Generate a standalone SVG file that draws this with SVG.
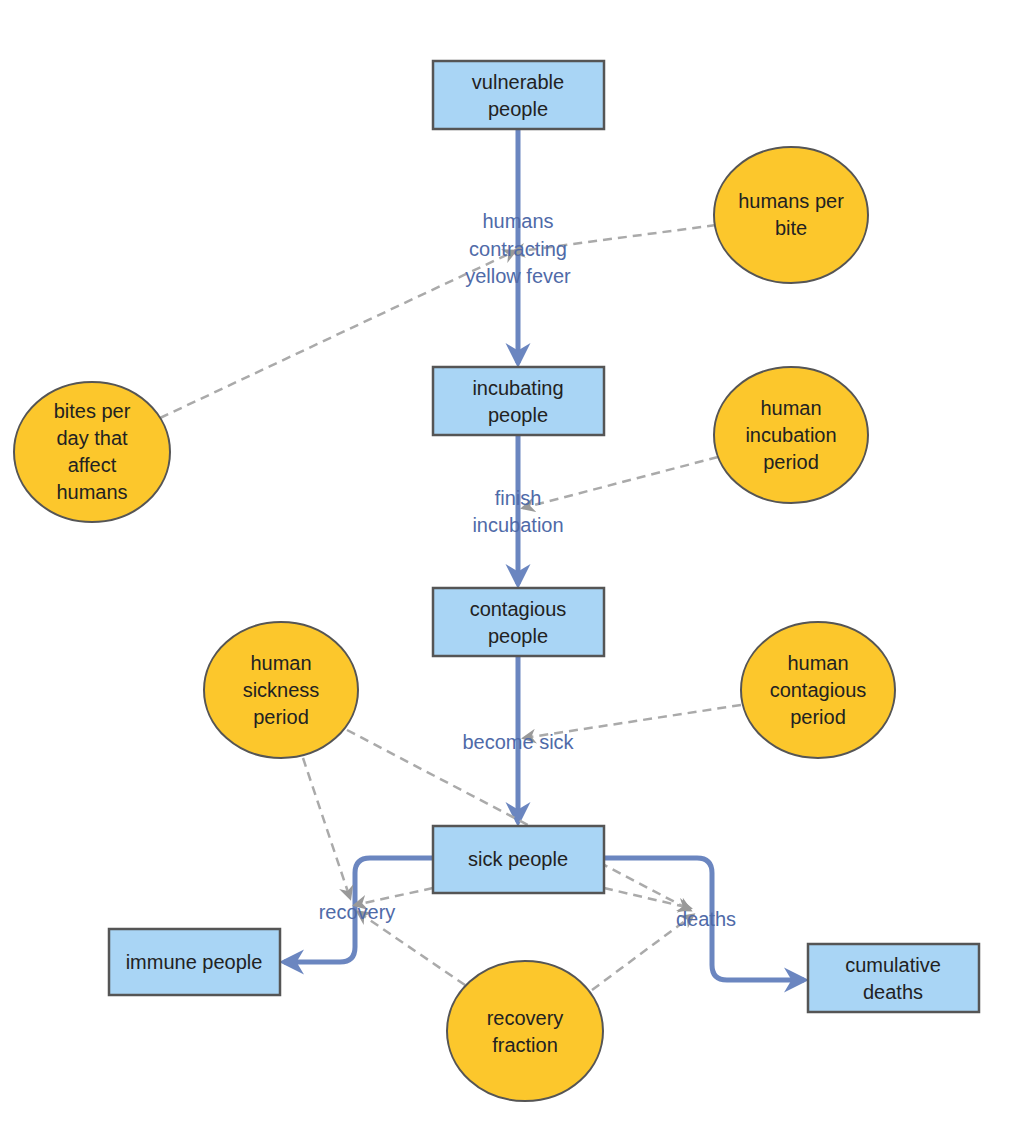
<svg xmlns="http://www.w3.org/2000/svg" width="1028" height="1126" viewBox="0 0 1028 1126">
<defs>
<style>
.box{fill:#a9d5f5;stroke:#555;stroke-width:2.5}
.aux{fill:#fcc72c;stroke:#555;stroke-width:2}
.t{font-family:"Comic Sans MS","Liberation Sans",sans-serif;font-size:20px;fill:#222;text-anchor:middle}
.ft{font-family:"Comic Sans MS","Liberation Sans",sans-serif;font-size:20px;fill:#4f6aa8;text-anchor:middle}
.flow{fill:none;stroke:#6b86c0;stroke-width:5;marker-end:url(#fa)}
.dash{fill:none;stroke:#aaa;stroke-width:2.5;stroke-dasharray:9 6;marker-end:url(#da)}
</style>
<marker id="fa" viewBox="0 0 10 10" refX="8" refY="5" markerWidth="5" markerHeight="6" orient="auto" markerUnits="strokeWidth"><path d="M0,0L10,5L0,10L3,5z" fill="#6b86c0"/></marker>
<marker id="da" viewBox="0 0 10 10" refX="8" refY="5" markerWidth="6" markerHeight="6" orient="auto" markerUnits="strokeWidth"><path d="M0,0L10,5L0,10L3,5z" fill="#999"/></marker>
</defs>
<rect width="1028" height="1126" fill="#fff"/>
<g id="connectors">
<path class="flow" d="M518,129V363"/>
<path class="flow" d="M518,435V584"/>
<path class="flow" d="M518,656V822"/>
<path class="flow" d="M433,858H370Q355,858 355,873V947Q355,962 340,962H284"/>
<path class="flow" d="M604,858H697Q712,858 712,873V965Q712,980 727,980H804"/>
<path class="dash" d="M716,225L513,252"/>
<path class="dash" d="M160,418L515,251"/>
<path class="dash" d="M718,457L523,508"/>
<path class="dash" d="M741,705L524,738"/>
<path class="dash" d="M347,730L690,910"/>
<path class="dash" d="M303,758L350,898"/>
<path class="dash" d="M433,888L355,905"/>
<path class="dash" d="M604,888L690,908"/>
<path class="dash" d="M465,985L358,912"/>
<path class="dash" d="M592,990L693,915"/>
</g>
<g id="flowlabels">
<text class="ft" x="518" y="228">humans</text>
<text class="ft" x="518" y="256">contracting</text>
<text class="ft" x="518" y="283">yellow fever</text>
<text class="ft" x="518" y="505">finish</text>
<text class="ft" x="518" y="532">incubation</text>
<text class="ft" x="518" y="749">become sick</text>
<text class="ft" x="357" y="919">recovery</text>
<text class="ft" x="706" y="926">deaths</text>
</g>
<g id="vulnerable"><rect class="box" x="433" y="61" width="171" height="68"/><text class="t" x="518" y="89">vulnerable</text><text class="t" x="518" y="116">people</text></g>
<g id="incubating"><rect class="box" x="433" y="367" width="171" height="68"/><text class="t" x="518" y="395">incubating</text><text class="t" x="518" y="422">people</text></g>
<g id="contagious"><rect class="box" x="433" y="588" width="171" height="68"/><text class="t" x="518" y="616">contagious</text><text class="t" x="518" y="643">people</text></g>
<g id="sick"><rect class="box" x="433" y="826" width="171" height="67"/><text class="t" x="518" y="866">sick people</text></g>
<g id="immune"><rect class="box" x="109" y="929" width="171" height="66"/><text class="t" x="194" y="969">immune people</text></g>
<g id="deaths"><rect class="box" x="808" y="944" width="171" height="68"/><text class="t" x="893" y="972">cumulative</text><text class="t" x="893" y="999">deaths</text></g>
<g id="hpb"><ellipse class="aux" cx="791" cy="215" rx="77" ry="68"/><text class="t" x="791" y="208">humans per</text><text class="t" x="791" y="235">bite</text></g>
<g id="bpd"><ellipse class="aux" cx="92" cy="452" rx="78" ry="70"/><text class="t" x="92" y="418">bites per</text><text class="t" x="92" y="445">day that</text><text class="t" x="92" y="472">affect</text><text class="t" x="92" y="499">humans</text></g>
<g id="hip"><ellipse class="aux" cx="791" cy="435" rx="77" ry="68"/><text class="t" x="791" y="415">human</text><text class="t" x="791" y="442">incubation</text><text class="t" x="791" y="469">period</text></g>
<g id="hsp"><ellipse class="aux" cx="281" cy="690" rx="77" ry="68"/><text class="t" x="281" y="670">human</text><text class="t" x="281" y="697">sickness</text><text class="t" x="281" y="724">period</text></g>
<g id="hcp"><ellipse class="aux" cx="818" cy="690" rx="77" ry="68"/><text class="t" x="818" y="670">human</text><text class="t" x="818" y="697">contagious</text><text class="t" x="818" y="724">period</text></g>
<g id="rf"><ellipse class="aux" cx="525" cy="1031" rx="78" ry="70"/><text class="t" x="525" y="1025">recovery</text><text class="t" x="525" y="1052">fraction</text></g>
</svg>
